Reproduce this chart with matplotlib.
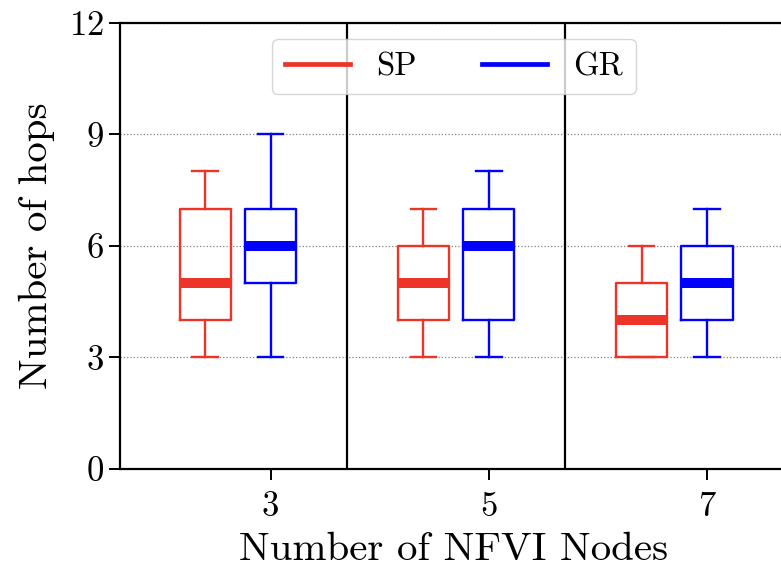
import matplotlib
matplotlib.use("Agg")
import matplotlib.pyplot as plt
from matplotlib.lines import Line2D

plt.rcParams['font.family'] = 'serif'
plt.rcParams['font.serif'] = ['cmr10']
plt.rcParams['mathtext.fontset'] = 'cm'
plt.rcParams['axes.formatter.use_mathtext'] = True

# number of NFVI nodes
nodes = [3, 5, 7]
# box stats per group: [whisker low, q1, median, q3, whisker high]
sp_stats = [[3, 4, 5, 7, 8], [3, 4, 5, 6, 7], [3, 3, 4, 5, 6]]
gr_stats = [[3, 5, 6, 7, 9], [3, 4, 6, 7, 8], [3, 4, 5, 6, 7]]

red = '#ec3428'
blue = '#0000ff'


def to_bxp(rows):
    out = []
    for lo, q1, med, q3, hi in rows:
        out.append({'whislo': lo, 'q1': q1, 'med': med, 'q3': q3,
                    'whishi': hi, 'fliers': []})
    return out


fig = plt.figure(figsize=(7.81, 5.70), dpi=100)
ax = fig.add_axes([0.1537, 0.1772, 0.855, 0.783])

base = list(range(1, len(nodes) + 1))
sp_pos = [p - 0.3 for p in base]
gr_pos = base

for stats, pos, col in [(sp_stats, sp_pos, red), (gr_stats, gr_pos, blue)]:
    ax.bxp(to_bxp(stats), positions=pos, widths=0.235, showfliers=False,
           boxprops=dict(color=col, linewidth=1.7),
           whiskerprops=dict(color=col, linewidth=1.7),
           capprops=dict(color=col, linewidth=1.7),
           medianprops=dict(color=col, linewidth=7.2),
           manage_ticks=False)

# group separators
for p in base[:-1]:
    ax.axvline(p + 0.35, color='black', linewidth=1.6, zorder=1)

ax.set_xlim(0.31, 3.37)
ax.set_ylim(0, 12)
ax.set_yticks([0, 3, 6, 9, 12])
ax.set_xticks(base)
ax.set_xticklabels([str(n) for n in nodes])
ax.yaxis.grid(True, linestyle=':', color='0.5', linewidth=0.9)
ax.set_axisbelow(True)

for s in ax.spines.values():
    s.set_linewidth(1.6)
ax.tick_params(axis='both', labelsize=25, width=1.4, length=8, direction='out')
ax.tick_params(axis='x', pad=8)
ax.set_xlabel('Number of NFVI Nodes', fontsize=29.5, labelpad=6.5)
ax.set_ylabel('Number of hops', fontsize=29.5, labelpad=10)

handles = [Line2D([], [], color=red, linewidth=3.4),
           Line2D([], [], color=blue, linewidth=3.4)]
ax.legend(handles, ['SP', 'GR'], loc='upper center', ncol=2, fontsize=23.5)

fig.savefig('out.png', dpi=100)
